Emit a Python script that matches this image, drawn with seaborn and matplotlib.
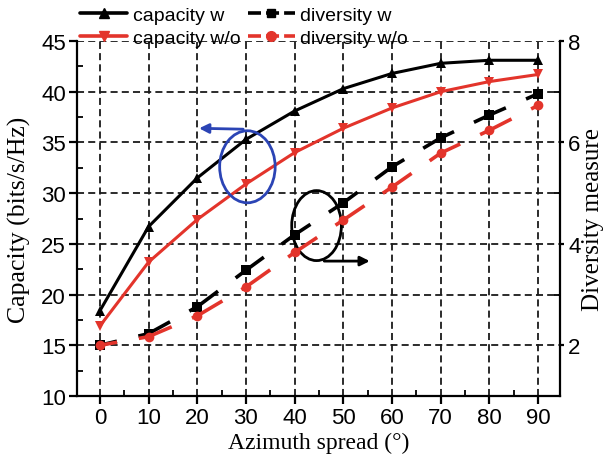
import numpy as np
import pandas as pd
import seaborn as sns
import matplotlib
matplotlib.use("Agg")
import matplotlib.pyplot as plt
from matplotlib.patches import Ellipse
from matplotlib.lines import Line2D

# ---- data ----
azimuth = [0, 10, 20, 30, 40, 50, 60, 70, 80, 90]
capacity_w = [18.4, 26.7, 31.5, 35.3, 38.1, 40.3, 41.8, 42.8, 43.1, 43.1]
capacity_wo = [16.9, 23.2, 27.4, 30.9, 34.0, 36.4, 38.4, 40.0, 41.0, 41.7]
diversity_w = [2.0, 2.23, 2.76, 3.48, 4.18, 4.81, 5.52, 6.09, 6.54, 6.96]
diversity_wo = [2.0, 2.17, 2.58, 3.15, 3.83, 4.47, 5.12, 5.79, 6.24, 6.73]
cap_ticks = [10, 15, 20, 25, 30, 35, 40, 45]
div_ticks = [2, 4, 6, 8]
x_ticks = azimuth
labels = ["capacity w", "capacity w/o", "diversity w", "diversity w/o"]

df_cap = pd.DataFrame({"az": azimuth * 2,
                       "val": capacity_w + capacity_wo,
                       "series": [labels[0]] * 10 + [labels[1]] * 10})
df_div = pd.DataFrame({"az": azimuth * 2,
                       "val": diversity_w + diversity_wo,
                       "series": [labels[2]] * 10 + [labels[3]] * 10})

sns.set_style("ticks")
plt.rcParams["font.family"] = ["Liberation Sans", "DejaVu Sans"]
plt.rcParams.update({"text.color": "black", "axes.labelcolor": "black",
                     "xtick.color": "black", "ytick.color": "black",
                     "xtick.labelcolor": "black", "ytick.labelcolor": "black"})

RED = "#E3342B"
BLUE = "#2B44B5"
fig = plt.figure(figsize=(6.06, 4.64), dpi=100)
ax = fig.add_axes([77 / 606, 67 / 464, 483 / 606, 355 / 464])
ax2 = ax.twinx()

DASH = (9.7, 6.1)
sns.lineplot(data=df_cap, x="az", y="val", hue="series", style="series",
             palette={labels[0]: "black", labels[1]: RED},
             markers={labels[0]: "^", labels[1]: "v"},
             dashes={labels[0]: "", labels[1]: ""},
             markersize=7, linewidth=2.2, markeredgewidth=0,
             ax=ax, legend=False)
sns.lineplot(data=df_div, x="az", y="val", hue="series", style="series",
             palette={labels[2]: "black", labels[3]: RED},
             markers={labels[2]: "s", labels[3]: "o"},
             dashes={labels[2]: DASH, labels[3]: DASH},
             markersize=7, linewidth=2.6, markeredgewidth=0,
             ax=ax2, legend=False)
for ln in ax2.lines:
    ln.set_linestyle((DASH[0] / 2, DASH))

ax.set_xlim(-4.7, 94.5)
ax.set_ylim(10, 45)
ax2.set_ylim(1, 8)
ax.set_xticks(x_ticks)
ax.set_xticks(np.arange(5, 95, 10), minor=True)
ax.set_yticks(cap_ticks)
ax.set_yticks(np.arange(12.5, 45, 5), minor=True)
ax2.set_yticks(div_ticks)
ax2.set_yticks([3, 5, 7], minor=True)

ax.grid(True, which="major", color="#1a1a1a", linestyle=(0, (3.9, 2.3)), linewidth=1.3)
ax2.grid(False)

for a in (ax, ax2):
    a.spines["top"].set_visible(False)
    for s in a.spines.values():
        s.set_linewidth(1.6)
        s.set_color("black")
ax.spines["right"].set_visible(False)
ax2.spines["left"].set_visible(False)
ax2.spines["bottom"].set_visible(False)

ax.tick_params(axis="both", which="major", direction="out", length=6, width=1.6,
               labelsize=16, colors="black", pad=2)
ax.tick_params(axis="both", which="minor", direction="in", length=4, width=1.3, colors="black")
ax2.tick_params(axis="y", which="major", direction="out", length=3, width=1.6,
                labelsize=16, pad=3, colors="black")
ax2.tick_params(axis="y", which="minor", direction="in", length=4, width=1.3, colors="black")

ax.set_xlabel("Azimuth spread (°)", family=["Liberation Serif"], fontsize=17,
              labelpad=3, color="black")
ax.set_ylabel("Capacity (bits/s/Hz)", family=["Liberation Serif"], fontsize=18.5,
              labelpad=7, color="black")
ax2.set_ylabel("Diversity measure", family=["Liberation Serif"], fontsize=18,
               rotation=90, labelpad=1, color="black")

# annotations
ax.add_patch(Ellipse((30.3, 32.6), 11.4, 7.1, fill=False, edgecolor=BLUE, lw=2, zorder=5))
ax.annotate("", xy=(19.8, 36.4), xytext=(30.0, 36.3),
            arrowprops=dict(arrowstyle="-|>", color=BLUE, lw=2, mutation_scale=14),
            zorder=5)
ax.add_patch(Ellipse((44.5, 26.8), 10.2, 6.9, fill=False, edgecolor="black", lw=2, zorder=5))
ax.annotate("", xy=(56.0, 23.3), xytext=(45.5, 23.3),
            arrowprops=dict(arrowstyle="-|>", color="black", lw=2, mutation_scale=14),
            zorder=5)

# legend
LDASH = (3.6, 1.4)
handles = [
    Line2D([], [], color="black", marker="^", lw=2.6, markersize=7),
    Line2D([], [], color=RED, marker="v", lw=2.6, markersize=7),
    Line2D([], [], color="black", marker="s", lw=2.6, markersize=6, dashes=LDASH),
    Line2D([], [], color=RED, marker="o", lw=2.6, markersize=7, dashes=LDASH),
]
leg = fig.legend(handles, labels, loc="upper left", bbox_to_anchor=(80 / 606, 1 - 7 / 464),
                 ncol=2, frameon=False, fontsize=14, handlelength=2.42, handletextpad=0.3,
                 columnspacing=0.36, labelspacing=0.29, borderpad=0, borderaxespad=0)
for t in leg.get_texts():
    t.set_color("black")

fig.savefig("out.png", dpi=100)
